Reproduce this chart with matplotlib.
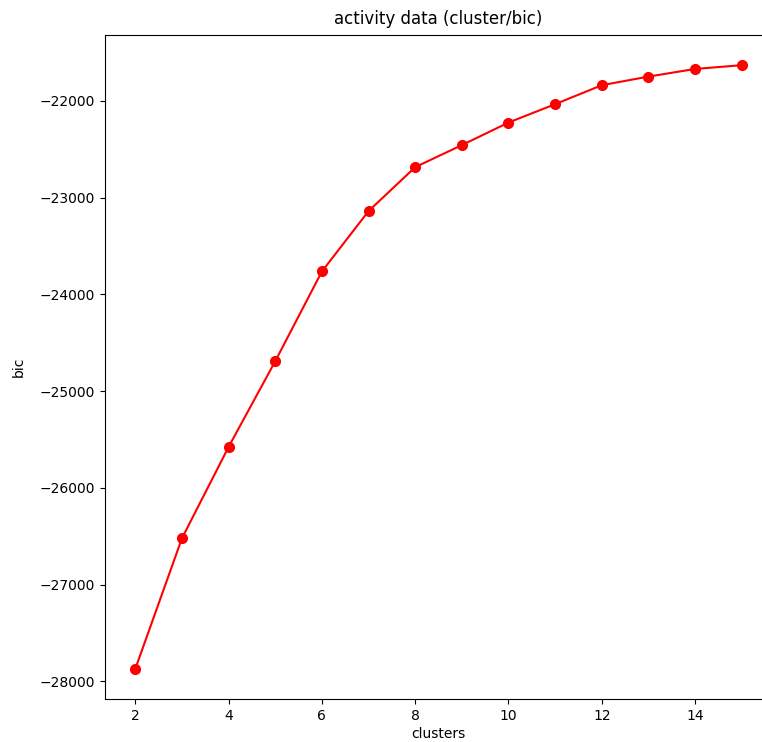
import matplotlib
matplotlib.use("Agg")
import matplotlib.pyplot as plt

clusters = [2, 3, 4, 5, 6, 7, 8, 9, 10, 11, 12, 13, 14, 15]
bic = [-27869, -26520, -25576, -24690, -23763, -23139, -22685,
       -22457, -22224, -22034, -21838, -21749, -21670, -21631]

fig = plt.figure(figsize=(7.62, 7.42), dpi=100)
ax = fig.add_axes([105 / 762, 43 / 742, (772 - 105) / 762, (699 - 35) / 742])
ax.plot(clusters, bic, color="red", marker="o", markersize=7, linewidth=1.5)
ax.spines["right"].set_visible(False)
ax.set_title("activity data (cluster/bic)", fontsize=12, pad=8)
ax.set_xlabel("clusters", labelpad=3)
ax.set_ylabel("bic", labelpad=10)
fig.savefig("out.png", dpi=100)
